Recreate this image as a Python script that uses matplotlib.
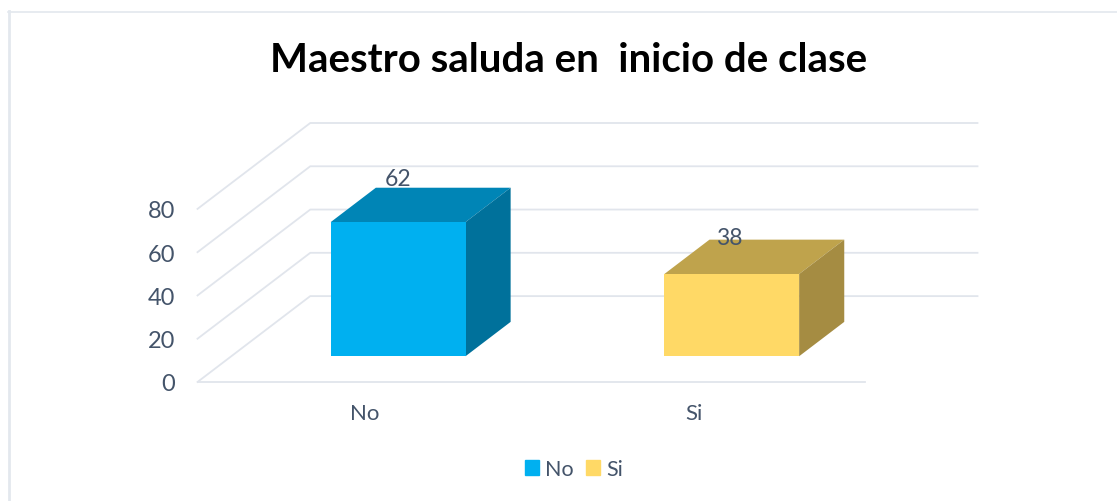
import matplotlib
matplotlib.use("Agg")
import matplotlib.pyplot as plt
from matplotlib.patches import Rectangle
from matplotlib.transforms import ScaledTranslation

plt.rcParams["font.family"] = ["Lato", "DejaVu Sans"]

# valeurs
categories = ["No", "Si"]
values = [62, 38]
y_ticks = [0, 20, 40, 60, 80]
title = "Maestro saluda en  inicio de clase"

TEXT = "#44546A"
GRID = "#E1E5EC"
FACE = ["#00B0F0", "#FFD966"]
TOP = ["#0085B6", "#BFA34C"]
SIDE = ["#00719B", "#A58C42"]

W, H = 1117, 502
# profondeur de la perspective, en unites des axes
DX = 0.338
DY = 39.7
BAR_W = 0.404
D0, D1 = 0.3, 0.7


def proj(x, v, d):
    return x + d * DX, v + d * DY


fig = plt.figure(figsize=(W / 100, H / 100), dpi=100)
ax = fig.add_axes([197.5 / W, 1 - 383 / H, (977 - 197) / W, (382 - 123) / H])
ax.set_xlim(-0.5, 1.5 + DX)
ax.set_ylim(0, 80 + DY)
ax.patch.set_visible(False)
for s in ax.spines.values():
    s.set_visible(False)

# cadre
fig.add_artist(plt.Line2D([9 / W, 9 / W], [0, 1 - 12 / H], color="#E3E8EE", lw=2))
fig.add_artist(plt.Line2D([8 / W, 1], [1 - 12.5 / H, 1 - 12.5 / H], color="#E3E8EE", lw=1.2))

# grille : mur du fond + cote gauche
for t in y_ticks:
    xs, ys = zip(proj(-0.5, t, 0), proj(-0.5, t, 1), proj(1.5, t, 1))
    ax.plot(xs, ys, color=GRID, lw=1.3, zorder=1, clip_on=False)
ax.plot([-0.5, 1.5], [0, 0], color=GRID, lw=1.3, zorder=1, clip_on=False)

# barres en fausse 3D
for i, v in enumerate(values):
    x0, x1 = i - BAR_W / 2, i + BAR_W / 2
    base = [proj(x0, 0, D0), proj(x1, 0, D0), proj(x1, v, D0), proj(x0, v, D0)]
    top = [proj(x0, v, D0), proj(x1, v, D0), proj(x1, v, D1), proj(x0, v, D1)]
    side = [proj(x1, 0, D0), proj(x1, 0, D1), proj(x1, v, D1), proj(x1, v, D0)]
    ax.fill(*zip(*top), color=TOP[i], lw=0, zorder=3)
    ax.fill(*zip(*side), color=SIDE[i], lw=0, zorder=3)
    ax.fill(*zip(*base), color=FACE[i], lw=0, zorder=4)

# etiquettes de valeur
ax.text(0.1, values[0] + 32.2, str(values[0]), color=TEXT, fontsize=16.5,
        ha="center", va="center", zorder=5)
ax.text(1.093, values[1] + 29, str(values[1]), color=TEXT, fontsize=16.5,
        ha="center", va="center", zorder=5)

ax.set_xticks(range(len(categories)))
ax.set_xticklabels(categories, fontsize=16, color=TEXT)
ax.set_yticks(y_ticks)
ax.set_yticklabels([str(t) for t in y_ticks], fontsize=17, color=TEXT)
ax.tick_params(axis="both", length=0)
ax.tick_params(axis="y", pad=16)
ax.tick_params(axis="x", pad=15)
# "Si" est un peu a gauche du centre dans l'original
lab = ax.get_xticklabels()[1]
lab.set_transform(lab.get_transform() + ScaledTranslation(-3.5 / 100, 0, fig.dpi_scale_trans))

fig.text(569 / W, 1 - 61 / H, title, fontsize=29, fontweight="bold",
         color="black", ha="center", va="center")

handles = [Rectangle((0, 0), 1, 1, color=c) for c in FACE]
fig.legend(handles, categories, loc="center", bbox_to_anchor=(574 / W, 1 - 470 / H),
           ncol=2, frameon=False, fontsize=15.5, labelcolor=TEXT,
           handlelength=0.65, handleheight=0.65, handletextpad=0.28,
           columnspacing=0.6)

fig.savefig("out.png", dpi=100)
